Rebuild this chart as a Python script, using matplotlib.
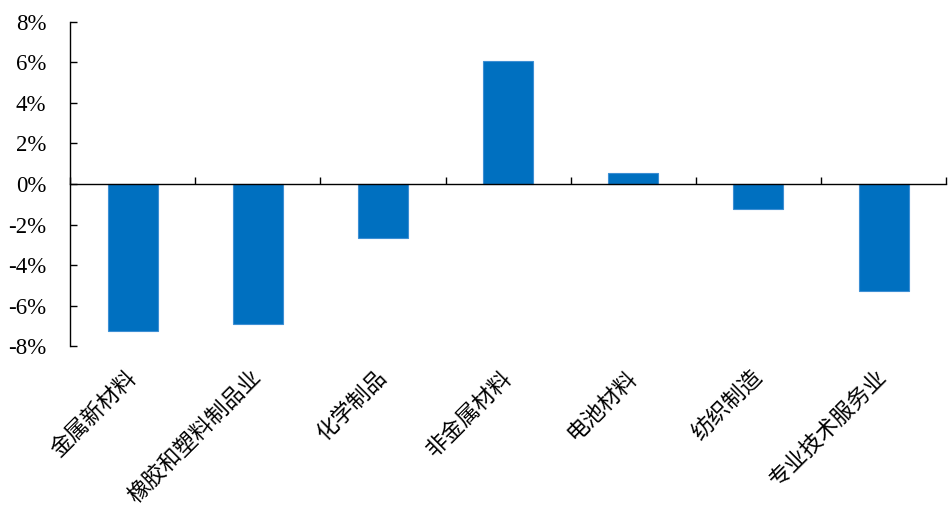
import matplotlib.pyplot as plt
import numpy as np
from matplotlib.ticker import FuncFormatter, FixedLocator, NullFormatter

plt.rcParams['font.family'] = ['Liberation Serif', 'Noto Sans CJK SC']

# Data
categories = ['金属新材料', '橡胶和塑料制品业', '化学制品', '非金属材料', '电池材料', '纺织制造', '专业技术服务业']
values = [-7.26, -6.92, -2.67, 6.08, 0.55, -1.25, -5.28]

yticks = np.arange(-8, 9, 2)

fig = plt.figure(figsize=(9.49, 5.09), dpi=100)
ax = fig.add_axes([0.0738, 0.3202, 0.9232, 0.6366])

x = np.arange(len(categories))
ax.bar(x, values, width=0.4, color='#0070C0', edgecolor='#3d8fd4', linewidth=0.8, zorder=2)

ax.set_xlim(-0.5, len(categories) - 0.5)
ax.set_ylim(-8, 8)
ax.set_yticks(yticks)
ax.yaxis.set_major_formatter(FuncFormatter(lambda v, p: f'{v:.0f}%'))
ax.tick_params(axis='y', direction='in', length=5, width=1, labelsize=16.5, pad=17)

for s in ['top', 'right']:
    ax.spines[s].set_visible(False)
ax.spines['left'].set_linewidth(1)

# zero line with ticks between categories
ax.spines['bottom'].set_position(('data', 0))
ax.spines['bottom'].set_linewidth(1)
ax.set_xticks([])
ax.xaxis.set_minor_locator(FixedLocator(np.arange(-0.5, len(categories), 1.0)))
ax.xaxis.set_minor_formatter(NullFormatter())
ax.tick_params(axis='x', which='minor', direction='in', length=5, width=1)

# category labels at the bottom
lab_ax = ax.secondary_xaxis('bottom')
lab_ax.spines['bottom'].set_visible(False)
lab_ax.set_xticks(x)
lab_ax.set_xticklabels(categories, rotation=45, ha='right', va='center', rotation_mode='anchor',
                       fontsize=16, fontfamily='Noto Sans CJK SC', fontweight='light')
lab_ax.tick_params(axis='x', length=0, pad=20)

plt.savefig('out.png', dpi=100)
